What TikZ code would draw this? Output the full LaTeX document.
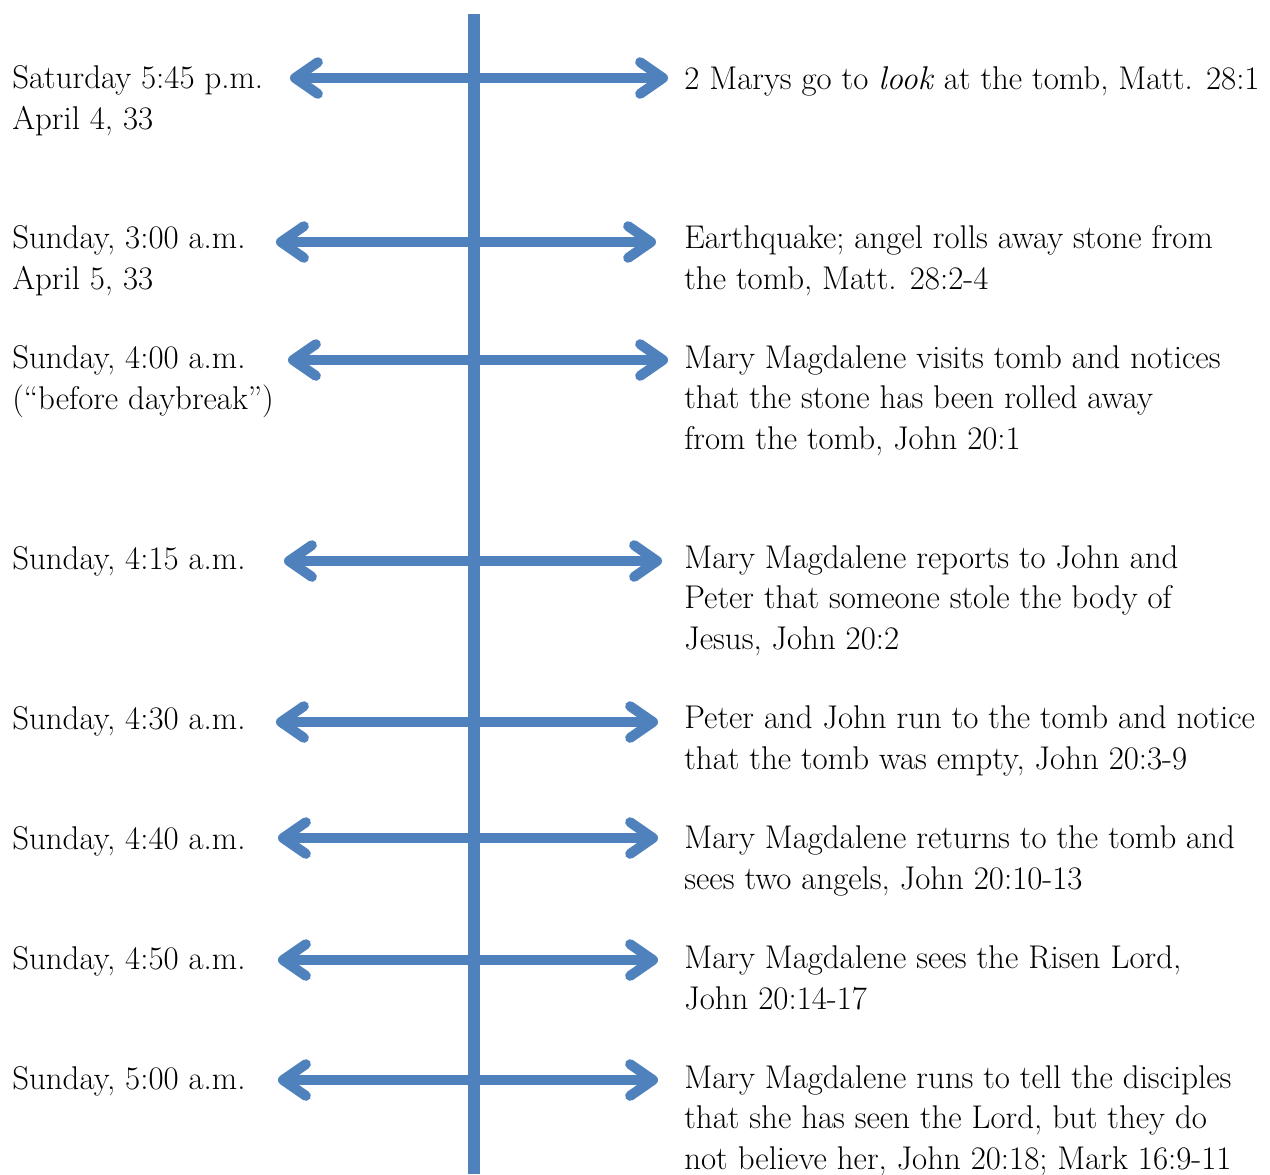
\documentclass[tikz,border=0pt]{standalone}
\usepackage{xcolor}
\usepackage{tikz}
\usetikzlibrary{arrows.meta, positioning}
\definecolor{lineblue}{RGB}{79,129,189}
\tikzstyle{datetext} = [anchor=base west, inner sep=0pt, align=left, font=\fontsize{18.7}{22.8}\selectfont]
\tikzstyle{eventtext} = [anchor=base west, inner sep=0pt, align=left, font=\fontsize{18.7}{22.8}\selectfont]
\tikzstyle{twoway} = [draw=lineblue, line width=5.7pt, {Straight Barb[round, length=13pt, width=18pt]}-{Straight Barb[round, length=13pt, width=18pt]}]
\tikzstyle{spine} = [draw=lineblue, line width=6.6pt]

\begin{document}
\begin{tikzpicture}[x=0.02cm, y=-0.02cm]
    \useasboundingbox (0,0) rectangle (1270,1174);

    % time axis
    \coordinate (top) at (474,14);
    \coordinate (bot) at (474,1174);
    \draw [spine] (top) -- (bot);

    % dates (placed by the baseline of their last line)
    \node (d1) [datetext] at (12,129) {Saturday 5:45 p.m.\\April 4, 33};
    \node (d2) [datetext] at (12,289) {Sunday, 3:00 a.m.\\April 5, 33};
    \node (d3) [datetext] at (12,409) {Sunday, 4:00 a.m.\\(“before daybreak”)};
    \node (d4) [datetext] at (12,569) {Sunday, 4:15 a.m.};
    \node (d5) [datetext] at (12,729) {Sunday, 4:30 a.m.};
    \node (d6) [datetext] at (12,849) {Sunday, 4:40 a.m.};
    \node (d7) [datetext] at (12,969) {Sunday, 4:50 a.m.};
    \node (d8) [datetext] at (12,1089) {Sunday, 5:00 a.m.};

    % events
    \node (e1) [eventtext] at (684,89) {2 Marys go to \textit{look} at the tomb, Matt. 28:1};
    \node (e2) [eventtext] at (684,289) {Earthquake; angel rolls away stone from\\the tomb, Matt. 28:2-4};
    \node (e3) [eventtext] at (684,449) {Mary Magdalene visits tomb and notices\\that the stone has been rolled away\\from the tomb, John 20:1};
    \node (e4) [eventtext] at (684,649) {Mary Magdalene reports to John and\\Peter that someone stole the body of\\Jesus, John 20:2};
    \node (e5) [eventtext] at (684,769) {Peter and John run to the tomb and notice\\that the tomb was empty, John 20:3-9};
    \node (e6) [eventtext] at (684,889) {Mary Magdalene returns to the tomb and\\sees two angels, John 20:10-13};
    \node (e7) [eventtext] at (684,1009) {Mary Magdalene sees the Risen Lord,\\John 20:14-17};
    \node (e8) [eventtext] at (684,1169) {Mary Magdalene runs to tell the disciples\\that she has seen the Lord, but they do\\not believe her, John 20:18; Mark 16:9-11};

    % arrow ends
    \coordinate (a1l) at (290,78);  \coordinate (a1r) at (668,78);
    \coordinate (a2l) at (276,242); \coordinate (a2r) at (656,242);
    \coordinate (a3l) at (288,360); \coordinate (a3r) at (668,360);
    \coordinate (a4l) at (284,561); \coordinate (a4r) at (662,561);
    \coordinate (a5l) at (276,722); \coordinate (a5r) at (658,722);
    \coordinate (a6l) at (278,838); \coordinate (a6r) at (658,838);
    \coordinate (a7l) at (278,960); \coordinate (a7r) at (658,960);
    \coordinate (a8l) at (278,1080); \coordinate (a8r) at (658,1080);

    \draw [twoway] (a1l) -- (a1r);
    \draw [twoway] (a2l) -- (a2r);
    \draw [twoway] (a3l) -- (a3r);
    \draw [twoway] (a4l) -- (a4r);
    \draw [twoway] (a5l) -- (a5r);
    \draw [twoway] (a6l) -- (a6r);
    \draw [twoway] (a7l) -- (a7r);
    \draw [twoway] (a8l) -- (a8r);
  \end{tikzpicture}
\end{document}
